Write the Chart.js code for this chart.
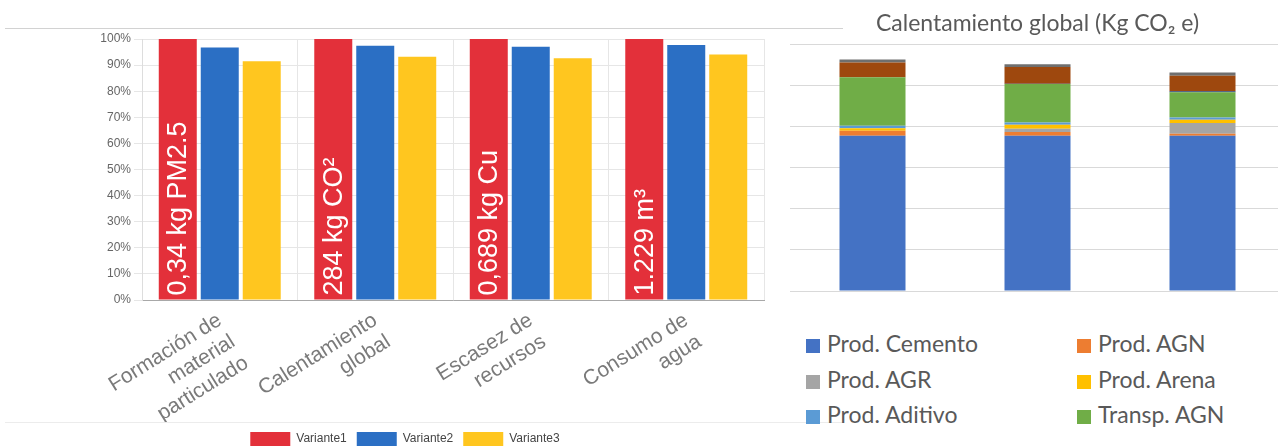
<!DOCTYPE html>
<html lang="es">
<head>
<meta charset="utf-8">
<title>Variantes · Calentamiento global</title>
<script src="https://cdn.jsdelivr.net/npm/chart.js@4.4.1/dist/chart.umd.min.js"></script>
<style>
  html, body { margin: 0; padding: 0; background: #fff; }
  #wrap { position: relative; width: 1278px; height: 448px; overflow: hidden; background: #fff; }
  .box { position: absolute; }
  #leftBox  { left: 0; top: 28px; width: 780px; height: 428px; }
  #rightBox { left: 780px; top: 0; width: 510px; height: 300px; }
  .rule { position: absolute; height: 1px; background: #d2d2d2; }
  .lg-item {
    position: absolute; height: 30px; line-height: 30px;
    font-family: Lato, "Open Sans", sans-serif; font-size: 23px; color: #595959;
    white-space: nowrap;
  }
  .lg-sw { display: inline-block; width: 14px; height: 14px; margin-right: 7px; vertical-align: -1px; }
</style>
</head>
<body>
<div id="wrap">
  <div class="rule" style="left:5px; top:28px; width:838px;"></div>
  <div class="rule" style="left:5px; top:422px; width:838px; background:#ececec;"></div>
  <div class="box" id="leftBox"><canvas id="impactChart"></canvas></div>
  <div class="box" id="rightBox"><canvas id="gwpChart"></canvas></div>
  <div id="legendRight"></div>
</div>

<script>
/* ── Data: left chart (relative impact per variant) ─────── */

var impactCategories = [
  ['Formación de', 'material', 'particulado'],
  ['Calentamiento', 'global'],
  ['Escasez de', 'recursos'],
  ['Consumo de', 'agua']
];
var variante1 = [100, 100, 100, 100];
var variante2 = [96.7, 97.4, 97.0, 97.7];
var variante3 = [91.5, 93.2, 92.6, 94.1];
var variante1Labels = ['0,34 kg PM2.5', '284 kg CO²', '0,689 kg Cu', '1.229 m³'];

/* ── Data: right chart (kg CO2 e by stage) ──────────────── */

var gwpVariants   = ['Variante1', 'Variante2', 'Variante3'];
var prodCemento   = [189, 189, 189];
var prodAGN       = [6, 4.5, 2.4];
var prodAGR       = [0, 4, 13];
var prodArena     = [3.3, 4.9, 4];
var prodAditivo   = [2.8, 2.8, 2.8];
var transpAGN     = [59, 46.8, 30.9];
var transpAGR     = [0, 0.4, 1.2];
var transpCemento = [18, 20.3, 18.7];
var transpArena   = [3.7, 3.3, 4];

var gwpNames  = ['Prod. Cemento', 'Prod. AGN', 'Prod. AGR', 'Prod. Arena', 'Prod. Aditivo',
                 'Transp. AGN', 'Transp. AGR', 'Transp. Cemento', 'Transp. Arena'];
var gwpSeries = [prodCemento, prodAGN, prodAGR, prodArena, prodAditivo,
                 transpAGN, transpAGR, transpCemento, transpArena];
var gwpColors = ['#4472c4', '#ed7d31', '#a5a5a5', '#ffc000', '#5b9bd5',
                 '#70ad47', '#264478', '#9e480e', '#6f6f6f'];
var legendShown = 6;   // the legend is cut after the third row

/* ── Plugin: white value text inside the Variante1 bars ── */

var barTextPlugin = {
  id: 'barText',
  afterDatasetsDraw: function (chart) {
    var meta = chart.getDatasetMeta(0);
    var c = chart.ctx;
    c.save();
    c.fillStyle = '#ffffff';
    c.font = '27px "Liberation Sans", Arial, sans-serif';
    c.textAlign = 'left';
    c.textBaseline = 'middle';
    meta.data.forEach(function (bar, i) {
      c.save();
      c.translate(bar.x, bar.base - 4);
      c.rotate(-Math.PI / 2);
      c.fillText(variante1Labels[i], 0, 1);
      c.restore();
    });
    c.restore();
  }
};

/* ── Left chart ─────────────────────────────────────────── */

var arial = 'Liberation Sans, Arial, sans-serif';
var gridGrey = '#e6e6e6';

new Chart(document.getElementById('impactChart'), {
  type: 'bar',
  data: {
    labels: impactCategories,
    datasets: [
      { label: 'Variante1', data: variante1, backgroundColor: '#e3303a' },
      { label: 'Variante2', data: variante2, backgroundColor: '#2b6fc4' },
      { label: 'Variante3', data: variante3, backgroundColor: '#ffc61f' }
    ]
  },
  options: {
    responsive: true,
    maintainAspectRatio: false,
    animation: false,
    layout: { padding: { left: 46, right: 16, top: 11, bottom: 0 } },
    datasets: { bar: { categoryPercentage: 0.81, barPercentage: 0.905 } },
    plugins: {
      legend: {
        position: 'bottom',
        labels: {
          boxWidth: 40,
          boxHeight: 14,
          padding: 10,
          color: '#444',
          font: { family: arial, size: 12 }
        }
      },
      tooltip: { enabled: false }
    },
    scales: {
      x: {
        grid: { color: gridGrey, offset: true, drawTicks: false },
        border: { color: '#a8a8a8' },
        ticks: {
          color: '#7a7a7a',
          font: { family: arial, size: 21 },
          minRotation: 32,
          maxRotation: 32,
          autoSkip: false,
          padding: 8
        },
        afterFit: function (s) { s.height = 122; }
      },
      y: {
        min: 0,
        max: 100,
        grid: { color: gridGrey, tickLength: 8 },
        border: { color: '#dddddd' },
        ticks: {
          stepSize: 10,
          padding: 3,
          color: '#666',
          font: { family: arial, size: 12 },
          callback: function (v) { return v + '%'; }
        },
        afterFit: function (s) { s.width = 96; }
      }
    }
  },
  plugins: [barTextPlugin]
});

/* ── Right chart ────────────────────────────────────────── */

var gwpDatasets = gwpSeries.map(function (vals, i) {
  return { label: gwpNames[i], data: vals, backgroundColor: gwpColors[i] };
});

new Chart(document.getElementById('gwpChart'), {
  type: 'bar',
  data: { labels: gwpVariants, datasets: gwpDatasets },
  options: {
    responsive: true,
    maintainAspectRatio: false,
    animation: false,
    layout: { padding: { left: 10, right: 5, top: 0, bottom: 9 } },
    datasets: { bar: { categoryPercentage: 1, barPercentage: 0.4 } },
    plugins: {
      legend: { display: false },
      tooltip: { enabled: false },
      title: {
        display: true,
        text: 'Calentamiento global (Kg CO₂ e)',
        color: '#595959',
        font: { family: 'Lato, "Open Sans", sans-serif', size: 23, weight: 'normal' },
        padding: { top: 10, bottom: 7 }
      }
    },
    scales: {
      x: { stacked: true, display: false },
      y: {
        stacked: true,
        min: 0,
        max: 300,
        ticks: { stepSize: 50, display: false },
        grid: { color: '#d9d9d9', drawTicks: false },
        border: { display: false }
      }
    }
  }
});

/* ── Right legend (two columns, as in the source) ───────── */

var legendRight = document.getElementById('legendRight');
var colLeft = [806, 1077];
var rowTop  = [328, 364, 399];

gwpNames.slice(0, legendShown).forEach(function (name, i) {
  var item = document.createElement('div');
  item.className = 'lg-item';
  item.style.left = colLeft[i % 2] + 'px';
  item.style.top = rowTop[Math.floor(i / 2)] + 'px';
  var sw = document.createElement('span');
  sw.className = 'lg-sw';
  sw.style.background = gwpColors[i];
  item.appendChild(sw);
  item.appendChild(document.createTextNode(name));
  legendRight.appendChild(item);
});
</script>
</body>
</html>
